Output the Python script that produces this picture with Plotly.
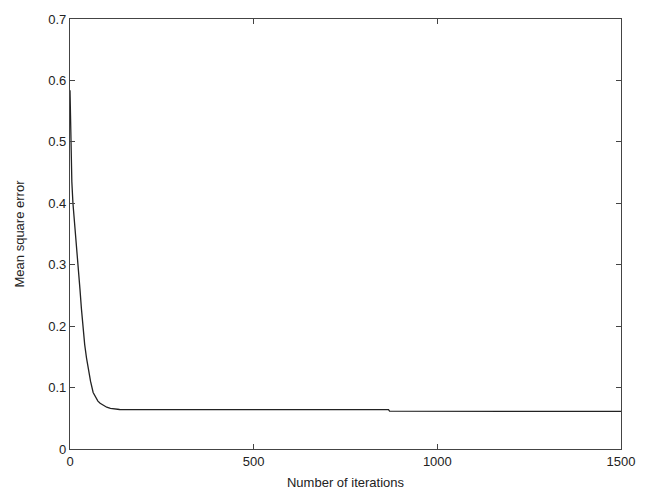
import plotly.graph_objects as go

iterations = [0, 1, 3, 5, 8, 11, 14, 19, 23, 27, 31, 35, 40, 45, 49, 56, 63, 70, 76, 82, 90, 100, 110, 120, 135, 300, 600, 867, 870, 1100, 1300, 1500]
mse = [0.584, 0.55, 0.48, 0.435, 0.40, 0.38, 0.36, 0.326, 0.293, 0.261, 0.229, 0.197, 0.170, 0.148, 0.132, 0.110, 0.092, 0.083, 0.078, 0.0745, 0.071, 0.068, 0.066, 0.065, 0.0643, 0.0642, 0.0641, 0.0640, 0.0615, 0.0614, 0.0613, 0.0612]

x_ticks = [0, 500, 1000, 1500]
y_ticks = [0, 0.1, 0.2, 0.3, 0.4, 0.5, 0.6, 0.7]
y_ticktext = ["0", "0.1", "0.2", "0.3", "0.4", "0.5", "0.6", "0.7"]

font_family = "Liberation Sans, Arial"

fig = go.Figure()
fig.add_trace(go.Scatter(x=iterations, y=mse, mode="lines",
                         line=dict(color="#222222", width=1.3), showlegend=False))

axis_common = dict(showgrid=False, zeroline=False, showline=True, linecolor="#444444",
                   linewidth=1.2, mirror="allticks", ticks="inside", ticklen=5,
                   tickcolor="#444444", tickwidth=1,
                   tickfont=dict(family=font_family, size=13, color="#222222"))

fig.update_xaxes(range=[0, 1500], tickvals=x_ticks, ticktext=[str(v) for v in x_ticks],
                 title=dict(text="Number of iterations", standoff=10,
                            font=dict(family=font_family, size=13, color="#222222")),
                 **axis_common)
fig.update_yaxes(range=[0, 0.7], tickvals=y_ticks, ticktext=y_ticktext,
                 title=dict(text="Mean square error", standoff=20,
                            font=dict(family=font_family, size=13, color="#222222")),
                 **axis_common)

fig.update_layout(width=654, height=500, plot_bgcolor="white", paper_bgcolor="white",
                  margin=dict(l=70, r=33, t=17, b=48))

fig.write_html("out.html")
